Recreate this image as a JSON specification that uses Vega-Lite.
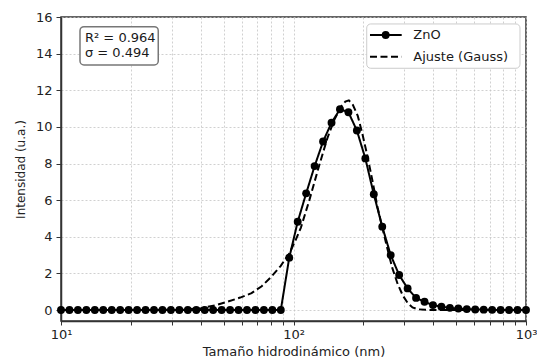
{
  "$schema": "https://vega.github.io/schema/vega-lite/v6.json",
  "width": 465,
  "height": 304,
  "autosize": {"type": "none"},
  "padding": {"left": 61, "top": 17, "right": 11, "bottom": 41},
  "background": "white",
  "config": {
    "view": {"stroke": "#333", "strokeWidth": 1.5},
    "font": "DejaVu Sans",
    "axis": {
      "domainColor": "#333", "domainWidth": 1.5,
      "tickColor": "#333", "tickWidth": 1,
      "labelColor": "#222", "labelFont": "DejaVu Sans", "labelFontSize": 13,
      "titleColor": "#222", "titleFont": "DejaVu Sans", "titleFontSize": 13, "titleFontWeight": "normal",
      "gridColor": "#c4c4c4", "gridDash": [2, 2], "gridWidth": 0.8
    },
    "axisX": {"tickSize": 4, "labelPadding": 3, "titlePadding": 4, "labelOverlap": false, "labelFlush": false},
    "axisY": {"tickSize": 5, "labelPadding": 4, "titlePadding": 8, "titleFontSize": 12, "labelOverlap": false}
  },
  "datasets": {
    "curvas": [
      {"x": 10.0, "y": 0, "s": "ZnO"},
      {"x": 10.873, "y": 0, "s": "ZnO"},
      {"x": 11.823, "y": 0, "s": "ZnO"},
      {"x": 12.855, "y": 0, "s": "ZnO"},
      {"x": 13.978, "y": 0, "s": "ZnO"},
      {"x": 15.199, "y": 0, "s": "ZnO"},
      {"x": 16.526, "y": 0, "s": "ZnO"},
      {"x": 17.969, "y": 0, "s": "ZnO"},
      {"x": 19.538, "y": 0, "s": "ZnO"},
      {"x": 21.245, "y": 0, "s": "ZnO"},
      {"x": 23.1, "y": 0, "s": "ZnO"},
      {"x": 25.117, "y": 0, "s": "ZnO"},
      {"x": 27.311, "y": 0, "s": "ZnO"},
      {"x": 29.696, "y": 0, "s": "ZnO"},
      {"x": 32.289, "y": 0, "s": "ZnO"},
      {"x": 35.109, "y": 0, "s": "ZnO"},
      {"x": 38.175, "y": 0, "s": "ZnO"},
      {"x": 41.509, "y": 0, "s": "ZnO"},
      {"x": 45.133, "y": 0, "s": "ZnO"},
      {"x": 49.075, "y": 0, "s": "ZnO"},
      {"x": 53.361, "y": 0, "s": "ZnO"},
      {"x": 58.021, "y": 0, "s": "ZnO"},
      {"x": 63.088, "y": 0, "s": "ZnO"},
      {"x": 68.597, "y": 0, "s": "ZnO"},
      {"x": 74.588, "y": 0, "s": "ZnO"},
      {"x": 81.102, "y": 0, "s": "ZnO"},
      {"x": 88.185, "y": 0, "s": "ZnO"},
      {"x": 95.886, "y": 2.86, "s": "ZnO"},
      {"x": 104.26, "y": 4.82, "s": "ZnO"},
      {"x": 113.36, "y": 6.37, "s": "ZnO"},
      {"x": 123.26, "y": 7.86, "s": "ZnO"},
      {"x": 134.03, "y": 9.2, "s": "ZnO"},
      {"x": 145.73, "y": 10.23, "s": "ZnO"},
      {"x": 158.46, "y": 10.96, "s": "ZnO"},
      {"x": 172.3, "y": 10.8, "s": "ZnO"},
      {"x": 187.35, "y": 9.8, "s": "ZnO"},
      {"x": 203.71, "y": 8.28, "s": "ZnO"},
      {"x": 221.5, "y": 6.32, "s": "ZnO"},
      {"x": 240.84, "y": 4.55, "s": "ZnO"},
      {"x": 261.87, "y": 3.0, "s": "ZnO"},
      {"x": 284.74, "y": 1.91, "s": "ZnO"},
      {"x": 309.61, "y": 1.18, "s": "ZnO"},
      {"x": 336.65, "y": 0.66, "s": "ZnO"},
      {"x": 366.05, "y": 0.45, "s": "ZnO"},
      {"x": 398.01, "y": 0.27, "s": "ZnO"},
      {"x": 432.76, "y": 0.18, "s": "ZnO"},
      {"x": 470.55, "y": 0.12, "s": "ZnO"},
      {"x": 511.64, "y": 0.08, "s": "ZnO"},
      {"x": 556.32, "y": 0.05, "s": "ZnO"},
      {"x": 604.9, "y": 0.03, "s": "ZnO"},
      {"x": 657.72, "y": 0.02, "s": "ZnO"},
      {"x": 715.2, "y": 0.01, "s": "ZnO"},
      {"x": 777.6, "y": 0, "s": "ZnO"},
      {"x": 845.5, "y": 0, "s": "ZnO"},
      {"x": 919.3, "y": 0, "s": "ZnO"},
      {"x": 1000.0, "y": 0, "s": "ZnO"},
      {"x": 10, "y": 0, "s": "Ajuste (Gauss)"},
      {"x": 20, "y": 0, "s": "Ajuste (Gauss)"},
      {"x": 30, "y": 0.01, "s": "Ajuste (Gauss)"},
      {"x": 34, "y": 0.03, "s": "Ajuste (Gauss)"},
      {"x": 40, "y": 0.1, "s": "Ajuste (Gauss)"},
      {"x": 46, "y": 0.25, "s": "Ajuste (Gauss)"},
      {"x": 52, "y": 0.45, "s": "Ajuste (Gauss)"},
      {"x": 59, "y": 0.68, "s": "Ajuste (Gauss)"},
      {"x": 66, "y": 0.92, "s": "Ajuste (Gauss)"},
      {"x": 73, "y": 1.3, "s": "Ajuste (Gauss)"},
      {"x": 80, "y": 1.8, "s": "Ajuste (Gauss)"},
      {"x": 88, "y": 2.4, "s": "Ajuste (Gauss)"},
      {"x": 96, "y": 3.1, "s": "Ajuste (Gauss)"},
      {"x": 102, "y": 3.8, "s": "Ajuste (Gauss)"},
      {"x": 107.6, "y": 4.5, "s": "Ajuste (Gauss)"},
      {"x": 117, "y": 6.0, "s": "Ajuste (Gauss)"},
      {"x": 127, "y": 7.6, "s": "Ajuste (Gauss)"},
      {"x": 134, "y": 8.6, "s": "Ajuste (Gauss)"},
      {"x": 140, "y": 9.4, "s": "Ajuste (Gauss)"},
      {"x": 150, "y": 10.4, "s": "Ajuste (Gauss)"},
      {"x": 160, "y": 11.1, "s": "Ajuste (Gauss)"},
      {"x": 167, "y": 11.38, "s": "Ajuste (Gauss)"},
      {"x": 173, "y": 11.45, "s": "Ajuste (Gauss)"},
      {"x": 180, "y": 11.2, "s": "Ajuste (Gauss)"},
      {"x": 189, "y": 10.6, "s": "Ajuste (Gauss)"},
      {"x": 198, "y": 9.6, "s": "Ajuste (Gauss)"},
      {"x": 208, "y": 8.4, "s": "Ajuste (Gauss)"},
      {"x": 219, "y": 7.0, "s": "Ajuste (Gauss)"},
      {"x": 230, "y": 5.6, "s": "Ajuste (Gauss)"},
      {"x": 242, "y": 4.4, "s": "Ajuste (Gauss)"},
      {"x": 254, "y": 3.3, "s": "Ajuste (Gauss)"},
      {"x": 266, "y": 2.3, "s": "Ajuste (Gauss)"},
      {"x": 280, "y": 1.45, "s": "Ajuste (Gauss)"},
      {"x": 295, "y": 0.8, "s": "Ajuste (Gauss)"},
      {"x": 310, "y": 0.38, "s": "Ajuste (Gauss)"},
      {"x": 325, "y": 0.14, "s": "Ajuste (Gauss)"},
      {"x": 342, "y": 0.04, "s": "Ajuste (Gauss)"},
      {"x": 370, "y": 0.01, "s": "Ajuste (Gauss)"},
      {"x": 400, "y": 0, "s": "Ajuste (Gauss)"},
      {"x": 1000, "y": 0, "s": "Ajuste (Gauss)"}
    ],
    "textos": [
      {"t": "R² = 0.964", "id": "r2"},
      {"t": "σ = 0.494", "id": "sigma"},
      {"t": "ZnO", "id": "ley1"},
      {"t": "Ajuste (Gauss)", "id": "ley2"}
    ]
  },
  "resolve": {"axis": {"x": "independent", "y": "independent"}},
  "layer": [
    {
      "data": {"name": "curvas"},
      "mark": {"type": "line", "color": "black", "strokeWidth": 2, "clip": true},
      "encoding": {
        "x": {
          "field": "x", "type": "quantitative",
          "scale": {"type": "log", "domain": [10, 1000], "nice": false},
          "axis": {
            "title": "Tamaño hidrodinámico (nm)",
            "orient": "bottom",
            "values": [10, 20, 30, 40, 50, 60, 70, 80, 90, 100, 200, 300, 400, 500, 600, 700, 800, 900, 1000],
            "labelExpr": "datum.value == 10 ? '10¹' : datum.value == 100 ? '10²' : datum.value == 1000 ? '10³' : ''",
            "encode": {"ticks": {"update": {"y2": {"signal": "(datum.value == 10 || datum.value == 100 || datum.value == 1000) ? 6 : 3"}}}}
          }
        },
        "y": {
          "field": "y", "type": "quantitative",
          "scale": {"domain": [-0.6, 16], "nice": false, "zero": false},
          "axis": {
            "title": "Intensidad (u.a.)",
            "orient": "left",
            "values": [0, 2, 4, 6, 8, 10, 12, 14, 16]
          }
        },
        "strokeDash": {
          "field": "s", "type": "nominal",
          "scale": {"domain": ["ZnO", "Ajuste (Gauss)"], "range": [[1, 0], [7, 3.5]]},
          "legend": null
        }
      }
    },
    {
      "data": {"name": "curvas"},
      "transform": [{"filter": "datum.s === 'ZnO'"}],
      "mark": {"type": "point", "shape": "circle", "filled": true, "color": "black", "size": 62, "opacity": 1},
      "encoding": {
        "x": {"field": "x", "type": "quantitative", "axis": null},
        "y": {"field": "y", "type": "quantitative", "axis": null}
      }
    },
    {
      "data": {"values": [{"caja": "R2"}]},
      "mark": {"type": "rect", "fill": "white", "stroke": "#777", "strokeWidth": 1.5, "cornerRadius": 4},
      "encoding": {
        "x": {"datum": 12.07, "type": "quantitative", "axis": null},
        "x2": {"datum": 26.2},
        "y": {"datum": 15.47, "type": "quantitative", "axis": null},
        "y2": {"datum": 13.38}
      }
    },
    {
      "data": {"name": "textos"},
      "transform": [{"filter": "datum.id === 'r2'"}],
      "mark": {"type": "text", "align": "left", "baseline": "middle", "font": "DejaVu Sans", "fontSize": 13, "color": "#1a1a1a"},
      "encoding": {
        "x": {"datum": 12.68, "type": "quantitative", "axis": null},
        "y": {"datum": 14.84, "type": "quantitative", "axis": null},
        "text": {"field": "t"}
      }
    },
    {
      "data": {"name": "textos"},
      "transform": [{"filter": "datum.id === 'sigma'"}],
      "mark": {"type": "text", "align": "left", "baseline": "middle", "font": "DejaVu Sans", "fontSize": 13, "color": "#1a1a1a"},
      "encoding": {
        "x": {"datum": 12.68, "type": "quantitative", "axis": null},
        "y": {"datum": 14.02, "type": "quantitative", "axis": null},
        "text": {"field": "t"}
      }
    },
    {
      "data": {"values": [{"caja": "leyenda"}]},
      "mark": {"type": "rect", "fill": "white", "stroke": "#cccccc", "strokeWidth": 1, "cornerRadius": 4},
      "encoding": {
        "x": {"datum": 206.5, "type": "quantitative", "axis": null},
        "x2": {"datum": 942.3},
        "y": {"datum": 15.62, "type": "quantitative", "axis": null},
        "y2": {"datum": 13.2}
      }
    },
    {
      "data": {"values": [{"serie": "ZnO"}]},
      "mark": {"type": "rule", "color": "black", "strokeWidth": 2},
      "encoding": {
        "x": {"datum": 213.3, "type": "quantitative", "axis": null},
        "x2": {"datum": 292.0},
        "y": {"datum": 15.017, "type": "quantitative", "axis": null}
      }
    },
    {
      "data": {"values": [{"serie": "ZnO"}]},
      "mark": {"type": "point", "shape": "circle", "filled": true, "color": "black", "size": 62, "opacity": 1},
      "encoding": {
        "x": {"datum": 249.2, "type": "quantitative", "axis": null},
        "y": {"datum": 15.017, "type": "quantitative", "axis": null}
      }
    },
    {
      "data": {"values": [{"serie": "Ajuste (Gauss)"}]},
      "mark": {"type": "rule", "color": "black", "strokeWidth": 2, "strokeDash": [7, 3.5]},
      "encoding": {
        "x": {"datum": 213.3, "type": "quantitative", "axis": null},
        "x2": {"datum": 292.0},
        "y": {"datum": 13.832, "type": "quantitative", "axis": null}
      }
    },
    {
      "data": {"name": "textos"},
      "transform": [{"filter": "datum.id === 'ley1'"}],
      "mark": {"type": "text", "align": "left", "baseline": "middle", "font": "DejaVu Sans", "fontSize": 13, "color": "#1a1a1a"},
      "encoding": {
        "x": {"datum": 327.6, "type": "quantitative", "axis": null},
        "y": {"datum": 15.017, "type": "quantitative", "axis": null},
        "text": {"field": "t"}
      }
    },
    {
      "data": {"name": "textos"},
      "transform": [{"filter": "datum.id === 'ley2'"}],
      "mark": {"type": "text", "align": "left", "baseline": "middle", "font": "DejaVu Sans", "fontSize": 13, "color": "#1a1a1a"},
      "encoding": {
        "x": {"datum": 327.6, "type": "quantitative", "axis": null},
        "y": {"datum": 13.832, "type": "quantitative", "axis": null},
        "text": {"field": "t"}
      }
    }
  ]
}
